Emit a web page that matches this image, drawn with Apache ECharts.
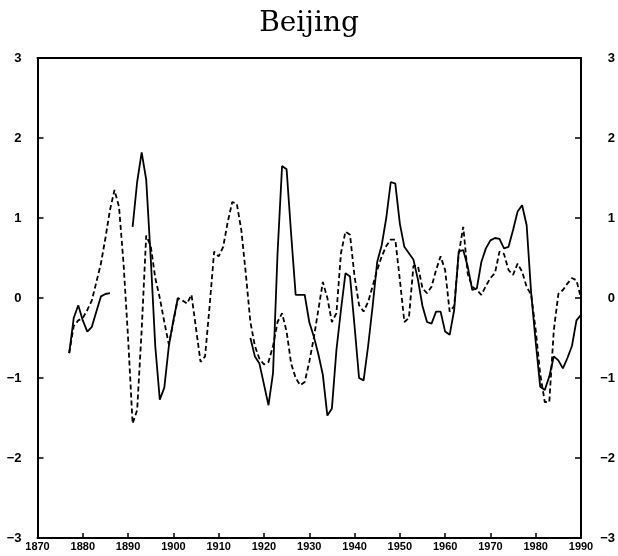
<!DOCTYPE html>
<html>
<head>
<meta charset="utf-8">
<title>Beijing</title>
<script src="https://cdn.jsdelivr.net/npm/echarts@6/dist/echarts.min.js"></script>
<style>
  html, body { margin: 0; padding: 0; background: #fff; }
  #chart { width: 618px; height: 556px; }
</style>
</head>
<body>
<div id="chart"></div>
<script>
// Annual anomaly series for Beijing, first year 1877; null marks a gap in the record.
const firstYear = 1877;

// Solid curve
const solidValues = [
  -0.69, -0.25, -0.09, -0.28, -0.42, -0.36, -0.17, 0.02, 0.05, 0.06,   // 1877-1886
  null, null, null, null,                                              // 1887-1890
  0.89, 1.45, 1.82, 1.48, 0.50, -0.60, -1.27, -1.12, -0.60, -0.28, 0.00, // 1891-1901
  null, null, null, null, null, null, null, null, null, null, null, null, null, null, null, // 1902-1916
  -0.50, -0.73, -0.82, -1.08, -1.34, -0.94, 0.56, 1.65, 1.61, 0.80,   // 1917-1926
  0.04, 0.04, 0.04, -0.30, -0.48, -0.70, -0.96, -1.47, -1.38, -0.65,  // 1927-1936
  -0.15, 0.31, 0.27, -0.35, -1.00, -1.03, -0.60, -0.10, 0.45, 0.66,   // 1937-1946
  1.00, 1.45, 1.43, 0.93, 0.64, 0.56, 0.48, 0.23, -0.10, -0.30,       // 1947-1956
  -0.32, -0.17, -0.17, -0.42, -0.46, -0.15, 0.58, 0.60, 0.39, 0.10,   // 1957-1966
  0.12, 0.45, 0.62, 0.72, 0.75, 0.74, 0.62, 0.64, 0.85, 1.08,         // 1967-1976
  1.16, 0.91, 0.06, -0.55, -1.11, -1.15, -0.98, -0.73, -0.78, -0.88,  // 1977-1986
  -0.75, -0.60, -0.28, -0.21                                          // 1987-1990
];

// Dashed curve
const dashedValues = [
  -0.69, -0.35, -0.28, -0.25, -0.15, -0.03, 0.20, 0.43, 0.75, 1.10,   // 1877-1886
  1.35, 1.14, 0.43, -0.50, -1.57, -1.40, -0.40, 0.78, 0.65, 0.25,     // 1887-1896
  0.00, -0.30, -0.58, -0.30, 0.00, -0.03, -0.07, 0.04, -0.38, -0.80,  // 1897-1906
  -0.73, -0.10, 0.58, 0.52, 0.64, 0.95, 1.20, 1.18, 0.85, 0.30,       // 1907-1916
  -0.30, -0.60, -0.76, -0.83, -0.80, -0.60, -0.30, -0.19, -0.42, -0.82, // 1917-1926
  -1.00, -1.09, -1.05, -0.80, -0.50, -0.15, 0.20, 0.00, -0.30, -0.19, // 1927-1936
  0.56, 0.83, 0.79, 0.27, -0.09, -0.17, -0.05, 0.15, 0.35, 0.52,      // 1937-1946
  0.65, 0.73, 0.73, 0.23, -0.30, -0.25, 0.40, 0.40, 0.12, 0.06,       // 1947-1956
  0.14, 0.35, 0.52, 0.35, -0.17, -0.10, 0.55, 0.89, 0.30, 0.14,       // 1957-1966
  0.10, 0.04, 0.15, 0.25, 0.31, 0.58, 0.55, 0.35, 0.29, 0.43,         // 1967-1976
  0.33, 0.14, 0.04, -0.40, -0.95, -1.30, -1.30, -0.40, 0.05, 0.10,    // 1977-1986
  0.18, 0.25, 0.22, 0.00                                              // 1987-1990
];

// Axis ticks
const xTicks = [1870, 1880, 1890, 1900, 1910, 1920, 1930, 1940, 1950, 1960, 1970, 1980, 1990];
const yTicks = [-3, -2, -1, 0, 1, 2, 3];

const toPairs = vals => vals.map((v, i) => [firstYear + i, v]);
const minus = v => (v < 0 ? '\u2212' + Math.abs(v) : String(v));

const labelFont = { fontFamily: 'Liberation Sans, Arial, sans-serif', fontWeight: 'bold', color: '#000' };
const frameLine = { show: true, onZero: false, lineStyle: { color: '#000', width: 2 } };

const yAxisCommon = {
  type: 'value',
  min: yTicks[0],
  max: yTicks[yTicks.length - 1],
  interval: 1,
  splitLine: { show: false },
  axisLine: frameLine,
  axisTick: { show: true, inside: true, length: 6, lineStyle: { color: '#000', width: 1.5 } }
};

const chart = echarts.init(document.getElementById('chart'), null, { renderer: 'canvas' });
chart.setOption({
  animation: false,
  backgroundColor: '#fff',
  title: {
    text: 'Beijing',
    left: 'center',
    top: 5,
    textStyle: { fontFamily: 'DejaVu Serif, serif', fontWeight: 'normal', fontSize: 28, color: '#000' }
  },
  grid: { left: 37.5, right: 35, top: 58, bottom: 18, containLabel: false },
  xAxis: [
    {
      type: 'value',
      position: 'bottom',
      min: xTicks[0],
      max: xTicks[xTicks.length - 1],
      interval: 10,
      splitLine: { show: false },
      axisLine: frameLine,
      axisTick: { show: true, inside: true, length: 5, lineStyle: { color: '#000', width: 1.5 } },
      axisLabel: Object.assign({ fontSize: 11, margin: 3, formatter: v => String(v) }, labelFont)
    },
    {
      type: 'value',
      position: 'top',
      min: xTicks[0],
      max: xTicks[xTicks.length - 1],
      axisLine: frameLine,
      axisTick: { show: false },
      axisLabel: { show: false },
      splitLine: { show: false }
    }
  ],
  yAxis: [
    Object.assign({}, yAxisCommon, {
      position: 'left',
      axisLabel: Object.assign({ fontSize: 13, margin: 16, formatter: minus }, labelFont)
    }),
    Object.assign({}, yAxisCommon, {
      position: 'right',
      axisLabel: Object.assign({ fontSize: 13, margin: 34, align: 'right', formatter: minus }, labelFont)
    })
  ],
  series: [
    {
      name: 'solid',
      type: 'line',
      data: toPairs(solidValues),
      showSymbol: false,
      connectNulls: false,
      lineStyle: { color: '#000', width: 1.8 }
    },
    {
      name: 'dashed',
      type: 'line',
      data: toPairs(dashedValues),
      showSymbol: false,
      connectNulls: false,
      lineStyle: { color: '#000', width: 1.8, type: [5, 3] }
    }
  ]
});
</script>
</body>
</html>
